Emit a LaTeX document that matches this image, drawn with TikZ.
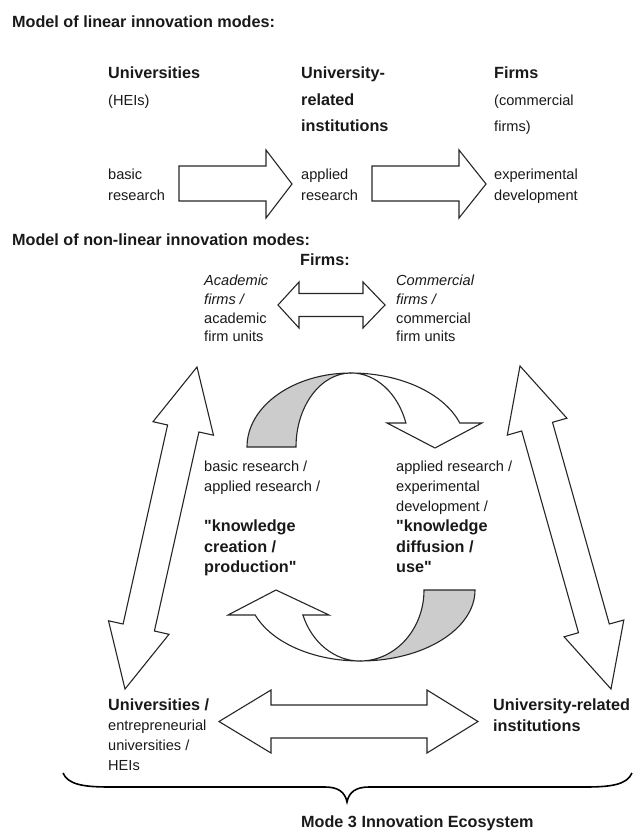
\documentclass[tikz,border=0pt]{standalone}
\usepackage{fontspec}
\setmainfont{Liberation Sans}[Ligatures=TeXOff]
\begin{document}
\begin{tikzpicture}[x=1pt,y=-1pt,
  txt/.style={inner sep=0pt, anchor=north west, align=left, text=black!90,
    font=\fontsize{14.6}{20}\selectfont},
  bld/.style={inner sep=0pt, anchor=north west, align=left, text=black!90,
    font=\bfseries\fontsize{16.2}{20.5}\selectfont},
  blockarrow/.style={draw=black!85, line width=1.1pt, fill=white, line join=miter},
  shadeband/.style={draw=black!85, line width=1.1pt, fill=black!20},
  brace/.style={draw=black, line width=1.6pt}
]
\useasboundingbox (0,0) rectangle (634,832);

% ---------------- linear model ----------------
\node[bld] (t1) at (12,16) {Model of linear innovation modes:};

\node[txt, font=\fontsize{14.6}{26.5}\selectfont] (uni) at (108,67)
  {{\bfseries\fontsize{16.2}{26.5}\selectfont Universities}\\(HEIs)};
\node[bld, font=\bfseries\fontsize{16.2}{26.5}\selectfont] (uri) at (301,67)
  {University-\\related\\institutions};
\node[txt, font=\fontsize{14.6}{26.5}\selectfont] (firm) at (494,67)
  {{\bfseries\fontsize{16.2}{26.5}\selectfont Firms}\\(commercial\\firms)};

\node[txt, font=\fontsize{14.6}{21}\selectfont] (basic) at (108,169) {basic\\research};
\node[txt, font=\fontsize{14.6}{21}\selectfont] (appl) at (301,169) {applied\\research};
\node[txt, font=\fontsize{14.6}{21}\selectfont] (expd) at (494,169) {experimental\\development};

\path[blockarrow] (179,166) -- (266,166) -- (266,150) -- (292,184) -- (266,218)
  -- (266,201) -- (179,201) -- cycle;
\path[blockarrow] (372,166) -- (459,166) -- (459,150) -- (486,184) -- (459,218)
  -- (459,201) -- (372,201) -- cycle;

% ---------------- non-linear model ----------------
\node[bld] (t2) at (12,234) {Model of non-linear innovation modes:};

\node[bld, anchor=north] (firms) at (325,254) {Firms:};

\node[txt, font=\fontsize{14.6}{18.7}\selectfont] (acad) at (204,275)
  {\itshape Academic\\\itshape firms /\\academic\\firm units};
\node[txt, font=\fontsize{14.6}{18.7}\selectfont] (comm) at (396,275)
  {\itshape Commercial\\\itshape firms /\\commercial\\firm units};

% top horizontal double arrow
\path[blockarrow] (278,305) -- (299,282) -- (299,293.5) -- (363,293.5) -- (363,282)
  -- (385,305) -- (363,328) -- (363,316.5) -- (299,316.5) -- (299,328) -- cycle;

% left diagonal double arrow
\path[blockarrow] (197,367) -- (213.5,435.2) -- (198.9,432.0) -- (154.4,631.0)
  -- (169.0,634.3) -- (125,689) -- (108.5,620.8) -- (123.1,624.0)
  -- (167.6,425.0) -- (153.0,421.7) -- cycle;

% right diagonal double arrow
\path[blockarrow] (520,366) -- (566.9,418.2) -- (552.5,422.3) -- (609.3,624.0)
  -- (623.8,620.0) -- (611,689) -- (564.1,636.8) -- (578.5,632.7)
  -- (521.7,431.0) -- (507.3,435.1) -- cycle;

% upper curved arrow
\path[shadeband] (247,447) arc[start angle=180, end angle=270, x radius=104, y radius=74]
  arc[start angle=270, end angle=180, x radius=55, y radius=74] -- cycle;
\path[blockarrow] (351,373) arc[start angle=270, end angle=341.1, x radius=115, y radius=74]
  -- (482,423) -- (435,448) -- (387,423) -- (405.9,423)
  arc[start angle=341.1, end angle=270, x radius=58, y radius=74] -- cycle;

% lower curved arrow
\path[shadeband] (424,590) arc[start angle=0, end angle=90, x radius=64, y radius=71]
  arc[start angle=90, end angle=0, x radius=115, y radius=71] -- cycle;
\path[blockarrow] (360,661) arc[start angle=90, end angle=159.4, x radius=112, y radius=71]
  -- (228,615) -- (276,590) -- (329,615) -- (302.9,615)
  arc[start angle=159.4, end angle=90, x radius=61, y radius=71] -- cycle;

% centre texts
\node[txt] (kcreg) at (204,461) {basic research /\\applied research /};
\node[bld] (kcb) at (204,520) {"knowledge\\creation /\\production"};
\node[txt] (kdreg) at (396,461) {applied research /\\experimental\\development /};
\node[bld] (kdb) at (396,520) {"knowledge\\diffusion /\\use"};

% bottom
\node[bld] (univ) at (108,699) {Universities /};
\node[txt] (unisub) at (108,720) {entrepreneurial\\universities /\\HEIs};
\node[bld] (urib) at (493,699) {University-related\\institutions};

\path[blockarrow] (219,721.5) -- (271,690) -- (271,705) -- (427,705) -- (427,690)
  -- (478,721.5) -- (427,753) -- (427,738) -- (271,738) -- (271,753) -- cycle;

% brace
\draw[brace] (63,773) .. controls (68,785) and (85,787) .. (110,787) -- (325,787)
  .. controls (338,787) and (345,792) .. (347,802)
  .. controls (349,792) and (356,787) .. (369,787) -- (585,787)
  .. controls (610,787) and (627,785) .. (632,773);

\node[bld] (eco) at (301,816) {Mode 3 Innovation Ecosystem};
\end{tikzpicture}
\end{document}
